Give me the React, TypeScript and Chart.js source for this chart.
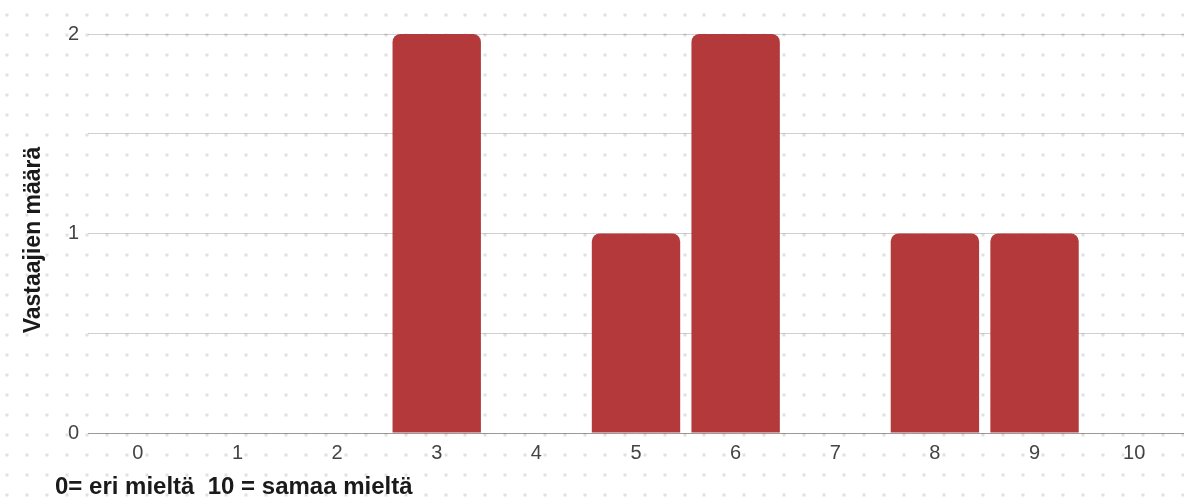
import React, { useEffect, useRef } from "react";
import { Chart, registerables } from "chart.js";

Chart.register(...registerables);

// Answer scale 0..10 and the number of respondents per answer
const categories = ["0", "1", "2", "3", "4", "5", "6", "7", "8", "9", "10"];
const counts = [0, 0, 0, 2, 0, 1, 2, 0, 1, 1, 0];
const yTicksShown = [0, 1, 2];

const yTitle = "Vastaajien määrä";
const xTitle = "0= eri mieltä  10 = samaa mieltä";

const FONT = "'Liberation Sans', Arial, Helvetica, sans-serif";
const BAR_COLOR = "#b4393a";

// Light dotted paper texture behind the plot
const dotPattern = {
  id: "dotPattern",
  beforeDraw(chart: Chart) {
    const { ctx, width, height } = chart;
    ctx.save();
    ctx.fillStyle = "#ffffff";
    ctx.fillRect(0, 0, width, height);
    ctx.restore();
  },
  beforeDatasetsDraw(chart: Chart) {
    const { ctx, width, height } = chart;
    ctx.save();
    ctx.fillStyle = "rgba(0,0,0,0.12)";
    for (let y = 15; y < height; y += 20) {
      for (let x = 7.3; x < width; x += 19.92) {
        ctx.fillRect(Math.round(x) - 1.5, y - 1.5, 3, 3);
      }
    }
    ctx.restore();
  },
};

// Axis captions: vertical one beside the value axis, horizontal one under the categories
const axisCaptions = {
  id: "axisCaptions",
  afterDraw(chart: Chart) {
    const { ctx } = chart;
    ctx.save();
    ctx.fillStyle = "#1a1a1a";

    ctx.font = `bold 23px ${FONT}`;
    ctx.save();
    ctx.translate(34, 240);
    ctx.rotate(-Math.PI / 2);
    ctx.textAlign = "center";
    ctx.textBaseline = "middle";
    ctx.fillText(yTitle, 0, 0);
    ctx.restore();

    ctx.font = `bold 24px ${FONT}`;
    ctx.textAlign = "left";
    ctx.textBaseline = "alphabetic";
    ctx.fillText(xTitle, 55, 494);
    ctx.restore();
  },
};

export default function App() {
  const canvasRef = useRef<HTMLCanvasElement | null>(null);

  useEffect(() => {
    if (!canvasRef.current) return;
    const chart = new Chart(canvasRef.current, {
      type: "bar",
      data: {
        labels: categories,
        datasets: [
          {
            data: counts,
            backgroundColor: BAR_COLOR,
            borderWidth: 0,
            borderRadius: 8,
            borderSkipped: "start",
            categoryPercentage: 1,
            barPercentage: 0.887,
          },
        ],
      },
      plugins: [dotPattern, axisCaptions],
      options: {
        animation: false,
        responsive: false,
        layout: { padding: { left: 0, right: 0, top: 34, bottom: 24 } },
        plugins: {
          legend: { display: false },
          tooltip: { enabled: false },
        },
        scales: {
          x: {
            grid: { display: false, drawTicks: false },
            border: { display: true, color: "#9a9a9a", width: 1 },
            ticks: {
              color: "#444444",
              font: { family: FONT, size: 20 },
              padding: 8,
              maxRotation: 0,
            },
            afterFit(scale: any) {
              scale.height = 40;
            },
          },
          y: {
            min: 0,
            max: 2,
            grid: { color: "#d0d0d0", lineWidth: 1, drawTicks: false },
            border: { display: false },
            ticks: {
              stepSize: 0.5,
              color: "#444444",
              font: { family: FONT, size: 20 },
              padding: 9,
              callback: (v: any) =>
                yTicksShown.includes(Number(v)) ? String(v) : "",
            },
            afterFit(scale: any) {
              scale.width = 88;
            },
          },
        },
      },
    });
    return () => chart.destroy();
  }, []);

  return (
    <div style={{ position: "absolute", left: 0, top: 0, width: 1184, height: 497, background: "#fff" }}>
      <canvas ref={canvasRef} width={1184} height={497} style={{ display: "block" }} />
    </div>
  );
}
